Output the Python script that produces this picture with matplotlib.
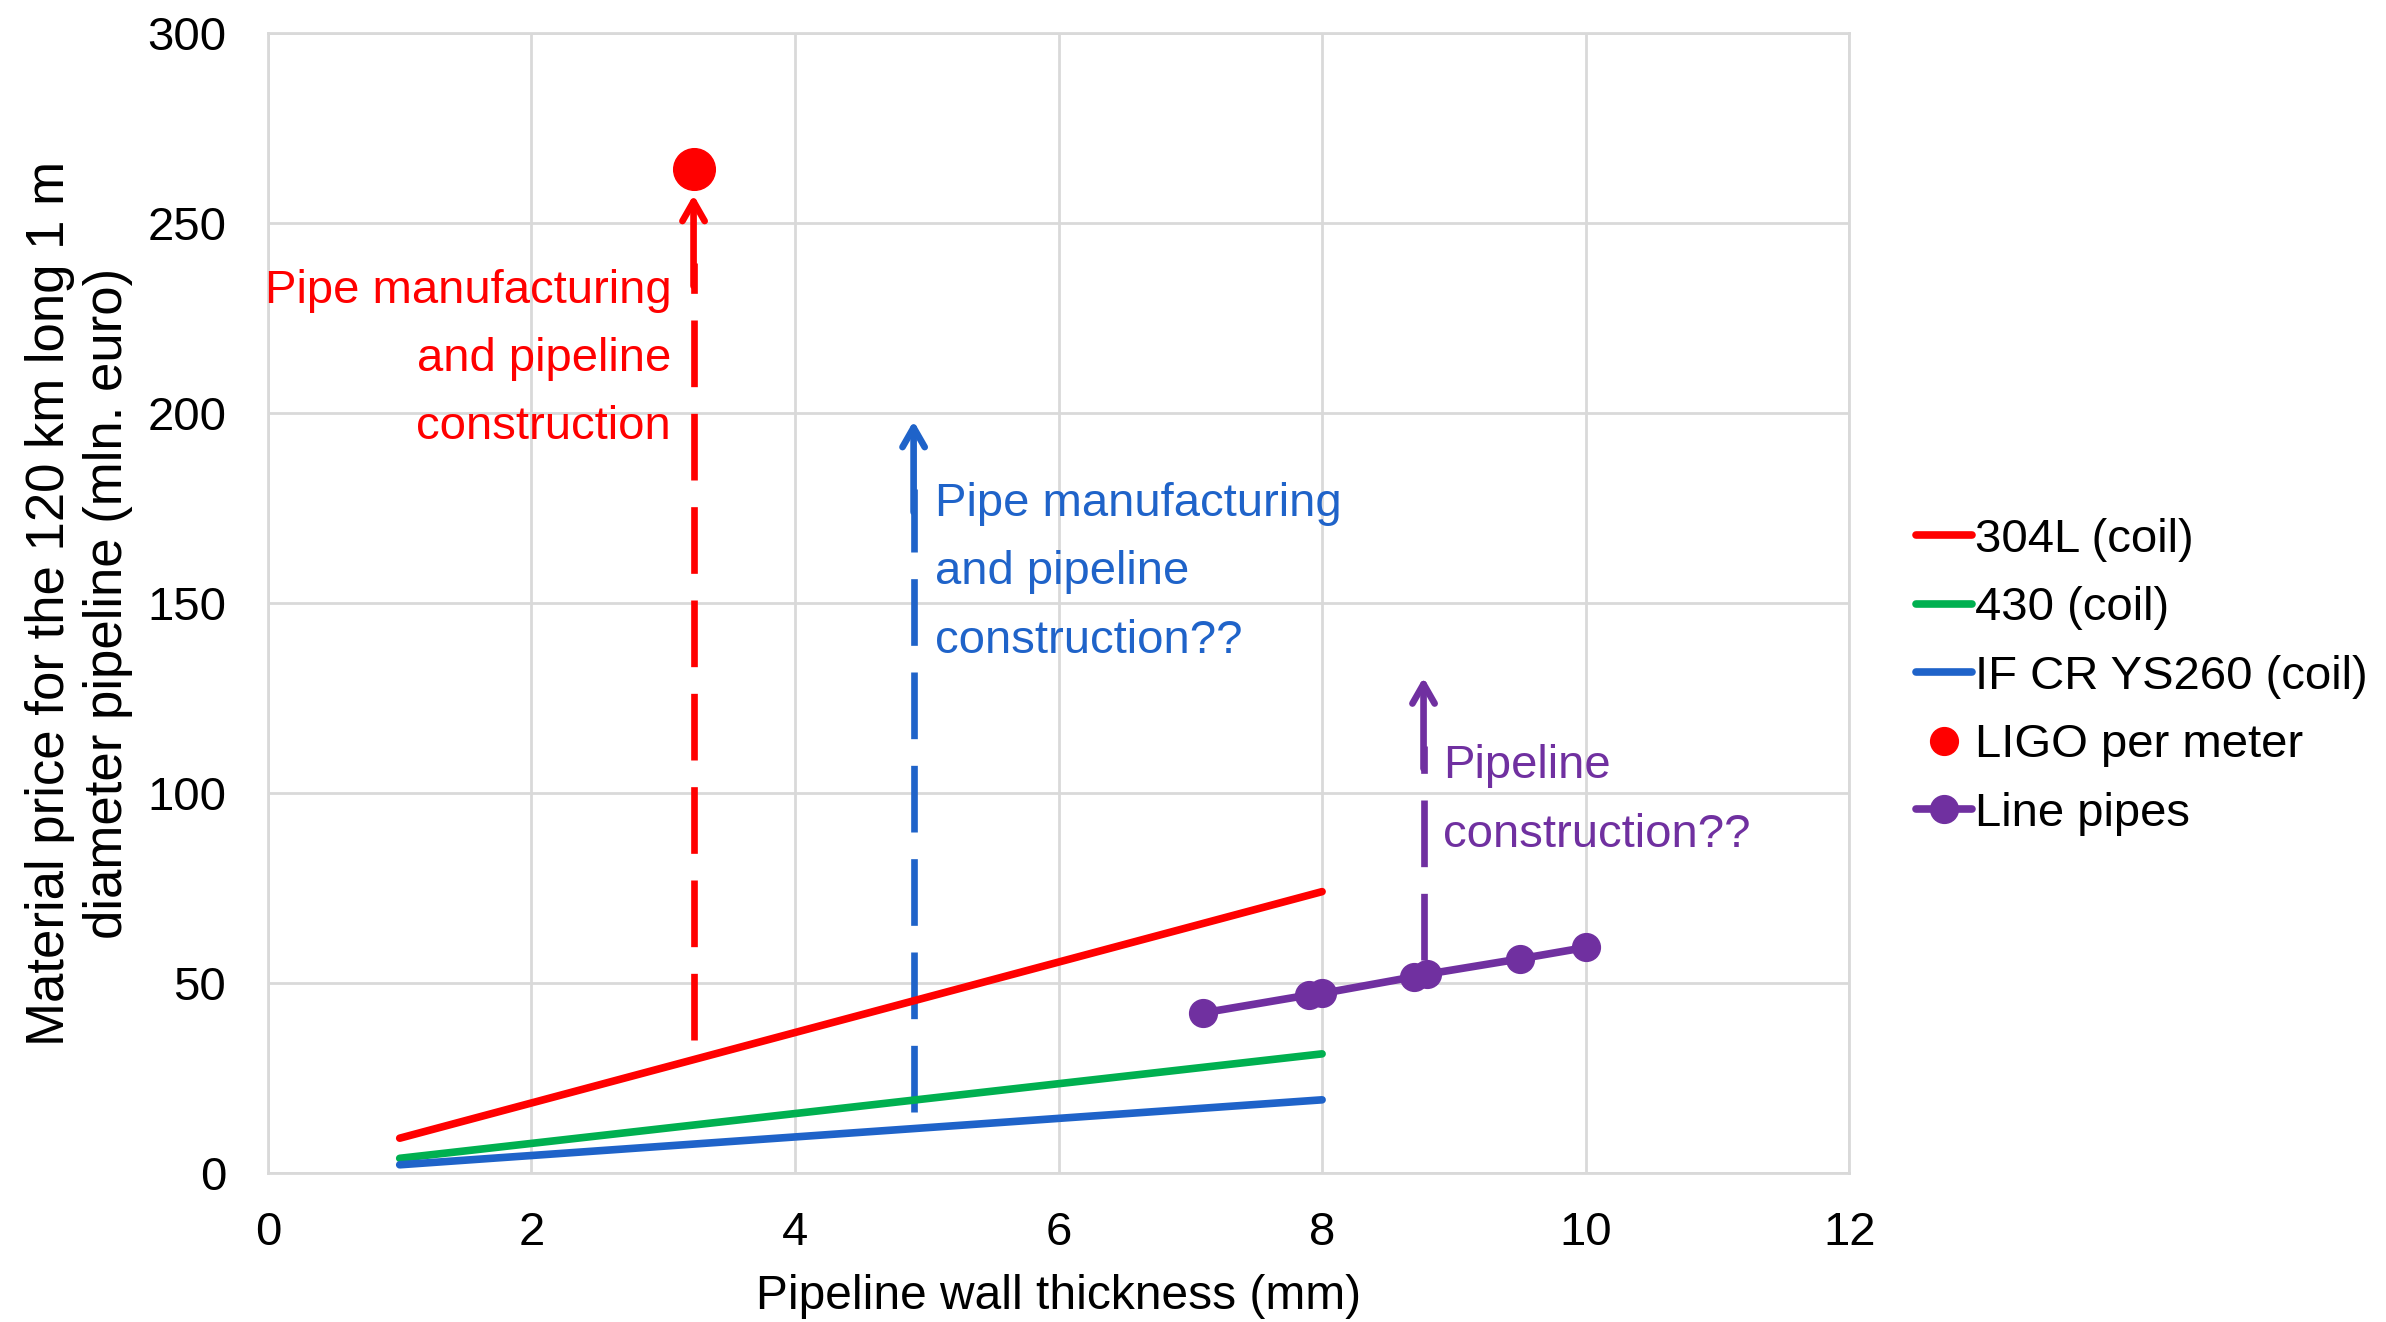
import matplotlib
matplotlib.use('Agg')
import matplotlib.pyplot as plt
from matplotlib.lines import Line2D

plt.rcParams['font.family'] = ['Liberation Sans', 'DejaVu Sans']

# data
coil_x = [1, 8]
steel_304l = [9.2, 74.1]
steel_430 = [3.9, 31.4]
if_cr_ys260 = [2.2, 19.3]

ligo_x = [3.23]
ligo_y = [264.3]

linepipe_x = [7.1, 7.9, 8.0, 8.7, 8.8, 9.5, 10.0]
linepipe_y = [42.2, 46.9, 47.3, 51.7, 52.4, 56.4, 59.4]

# dashed arrows: x, y_start, y_tip
arrows = [
    (3.23, 35.0, 257.5, '#FF0000'),
    (4.90, 16.0, 198.0, '#1F63C9'),
    (8.77, 56.0, 130.5, '#7030A0'),
]

RED = '#FF0000'
GREEN = '#00B050'
BLUE = '#1F63C9'
PURPLE = '#7030A0'
GRID = '#D9D9D9'
FS = 34

fig = plt.figure(figsize=(23.86, 13.22), dpi=100)
ax = fig.add_axes([0.1123, 0.1126, 0.775 - 0.1123, 0.9747 - 0.1126])

ax.plot(coil_x, steel_304l, color=RED, lw=5.5, solid_capstyle='round', zorder=3)
ax.plot(coil_x, steel_430, color=GREEN, lw=5.5, solid_capstyle='round', zorder=3)
ax.plot(coil_x, if_cr_ys260, color=BLUE, lw=5.5, solid_capstyle='round', zorder=3)
ax.plot(ligo_x, ligo_y, 'o', color=RED, ms=30, zorder=4)
ax.plot(linepipe_x, linepipe_y, '-o', color=PURPLE, lw=5.5, ms=20, zorder=4)

for x, y0, y1, c in arrows:
    ax.plot([x, x], [y0, y1 - 18], color=c, lw=4.8, dashes=(10, 4), zorder=2)
    # solid top piece with an open head
    ax.annotate('', xy=(x, y1), xytext=(x, y1 - 24),
                arrowprops=dict(arrowstyle='->,head_length=1.4,head_width=0.8',
                                color=c, lw=4.8, capstyle='round',
                                shrinkA=0, shrinkB=0), zorder=2)

ax.text(3.06, 214.3, 'Pipe manufacturing\nand pipeline\nconstruction', color=RED,
        fontsize=FS, ha='right', va='center', linespacing=1.72)
ax.text(5.06, 158.2, 'Pipe manufacturing\nand pipeline\nconstruction??', color=BLUE,
        fontsize=FS, ha='left', va='center', linespacing=1.72)
ax.text(8.915, 98.1, 'Pipeline\nconstruction??', color=PURPLE,
        fontsize=FS, ha='left', va='center', linespacing=1.72)

ax.set_xlim(0, 12)
ax.set_ylim(0, 300)
ax.set_xticks(range(0, 13, 2))
ax.set_yticks(range(0, 301, 50))
ax.grid(True, color=GRID, lw=2)
ax.set_axisbelow(True)
for s in ax.spines.values():
    s.set_color(GRID)
    s.set_linewidth(2)
ax.tick_params(length=0, labelsize=FS)
ax.tick_params(axis='x', pad=27)
ax.tick_params(axis='y', pad=30)

ax.set_xlabel('Pipeline wall thickness (mm)', fontsize=FS + 0.5, labelpad=14)
ax.set_ylabel('Material price for the 120 km long 1 m\ndiameter pipeline (mln. euro)',
              fontsize=38, labelpad=10, linespacing=1.2)

handles = [
    Line2D([], [], color=RED, lw=5.5, solid_capstyle='round'),
    Line2D([], [], color=GREEN, lw=5.5, solid_capstyle='round'),
    Line2D([], [], color=BLUE, lw=5.5, solid_capstyle='round'),
    Line2D([], [], color=RED, marker='o', ls='none', ms=20),
    Line2D([], [], color=PURPLE, marker='o', lw=5.5, ms=20, solid_capstyle='round'),
]
labels = ['304L (coil)', '430 (coil)', 'IF CR YS260 (coil)', 'LIGO per meter', 'Line pipes']
fig.legend(handles, labels, loc='center left', bbox_to_anchor=(0.795, 0.488),
           frameon=False, fontsize=FS, handlelength=1.2, handletextpad=0.05,
           labelspacing=0.52, borderaxespad=0)

fig.savefig('out.png', dpi=100)
